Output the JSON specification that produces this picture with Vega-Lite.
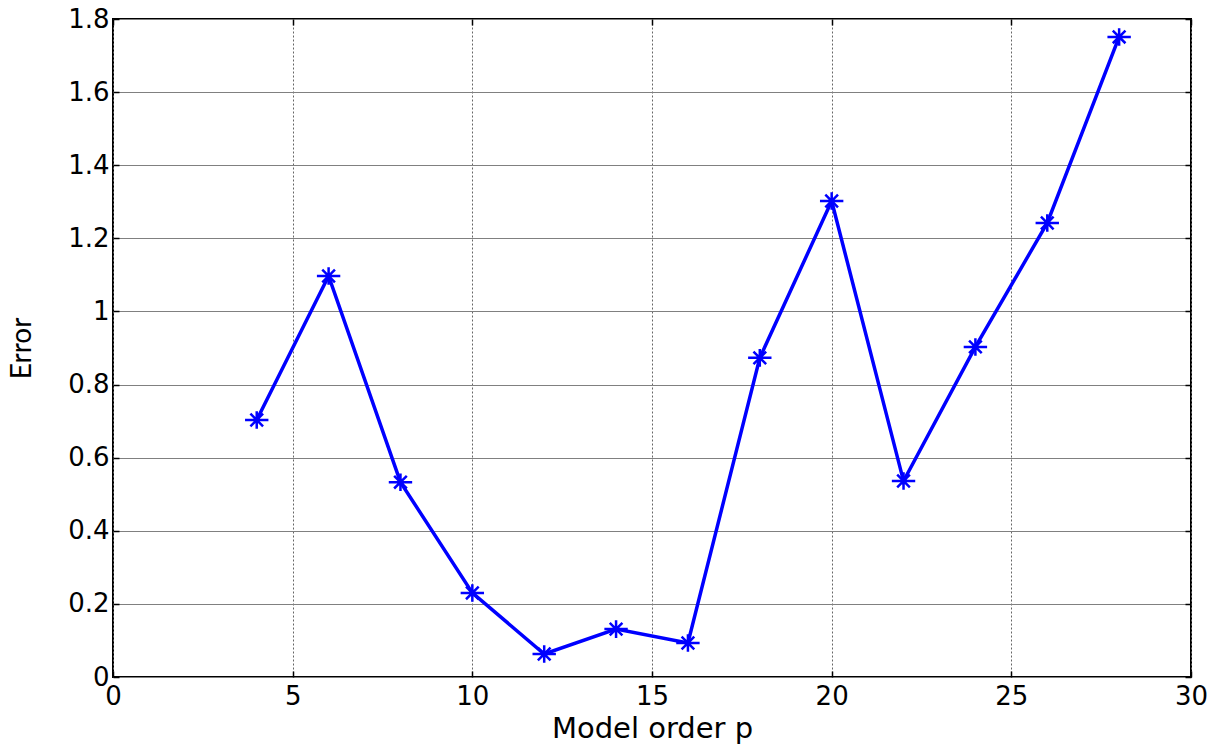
{
  "$schema": "https://vega.github.io/schema/vega-lite/v6.json",
  "autosize": "none",
  "width": 1078,
  "height": 658,
  "padding": {"left": 113, "top": 19, "right": 31, "bottom": 72},
  "background": "white",
  "config": {
    "view": {"stroke": "black", "strokeWidth": 2},
    "axis": {"labelFont": "DejaVu Sans", "labelFontSize": 26, "labelColor": "black", "titleFontWeight": "normal", "titleColor": "black", "domain": false, "tickColor": "black", "tickSize": -6, "tickWidth": 1.5, "gridColor": "#808080", "gridWidth": 1}
  },
  "data": {"values": [
    {"p": 4, "err": 0.703},
    {"p": 6, "err": 1.097},
    {"p": 8, "err": 0.533},
    {"p": 10, "err": 0.230},
    {"p": 12, "err": 0.063},
    {"p": 14, "err": 0.131},
    {"p": 16, "err": 0.093},
    {"p": 18, "err": 0.873},
    {"p": 20, "err": 1.302},
    {"p": 22, "err": 0.536},
    {"p": 24, "err": 0.903},
    {"p": 26, "err": 1.242},
    {"p": 28, "err": 1.751}
  ]},
  "layer": [
    {
      "mark": {"type": "line", "color": "#0000FF", "strokeWidth": 3.5},
      "encoding": {
        "x": {"field": "p", "type": "quantitative", "scale": {"domain": [0, 30], "nice": false},
          "axis": {"values": [0,5,10,15,20,25,30], "labelFlush": false, "title": "Model order p", "titleFont": "DejaVu Sans", "titleFontSize": 29, "titleY": 60, "titleBaseline": "alphabetic", "labelPadding": 12, "gridDash": [2,2], "gridColor": "#666666"}},
        "y": {"field": "err", "type": "quantitative", "scale": {"domain": [0, 1.8], "nice": false},
          "axis": {"values": [0,0.2,0.4,0.6,0.8,1,1.2,1.4,1.6,1.8], "format": "~g", "title": "Error", "titleFont": "Lato", "titleFontSize": 28, "titleX": -91, "titleBaseline": "middle", "labelPadding": 10, "labelBaseline": "middle"}}
      }
    },
    {
      "mark": {"type": "point", "shape": "M-1.2,0L1.2,0M0,-0.9L0,0.9M-0.65,-0.65L0.65,0.65M-0.65,0.65L0.65,-0.65", "filled": false, "stroke": "#0000FF", "strokeWidth": 2.5, "size": 380, "opacity": 1},
      "encoding": {
        "x": {"field": "p", "type": "quantitative", "axis": {"orient": "top", "values": [0,5,10,15,20,25,30], "labels": false, "title": null, "grid": false}},
        "y": {"field": "err", "type": "quantitative", "axis": {"orient": "right", "values": [0,0.2,0.4,0.6,0.8,1,1.2,1.4,1.6,1.8], "labels": false, "title": null, "grid": false}}
      }
    }
  ],
  "resolve": {"axis": {"x": "independent", "y": "independent"}}
}
